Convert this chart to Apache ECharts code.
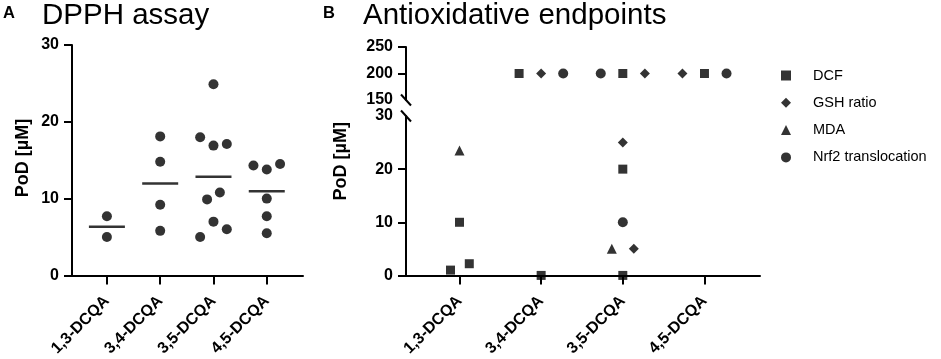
<!DOCTYPE html>
<html>
<head>
<meta charset="utf-8">
<script src="https://cdn.jsdelivr.net/npm/echarts@6/dist/echarts.min.js"></script>
<style>
  html, body { margin: 0; padding: 0; background: #fff; }
  #chart { width: 941px; height: 359px; }
</style>
</head>
<body>
<div id="chart"></div>
<script>
const categories = ["1,3-DCQA", "3,4-DCQA", "3,5-DCQA", "4,5-DCQA"];

// A: DPPH assay, PoD in µM per compound
const dpphValues = [
    [7.7, 5.0],
    [18.1, 14.8, 9.2, 5.8],
    [24.9, 18.0, 16.9, 17.1, 10.8, 9.9, 7.0, 6.0, 5.0],
    [14.3, 13.8, 14.5, 10.0, 7.7, 5.5]
];
// sideways spread of the dots (fraction of a category width)
const dpphJitter = [
    [0, 0],
    [0, 0, 0, 0],
    [0, -0.25, 0, 0.25, 0.12, -0.12, 0, 0.25, -0.25],
    [-0.25, 0, 0.25, 0, 0, 0]
];

// B: antioxidative endpoints, PoD in µM
const endpoints = ["DCF", "GSH ratio", "MDA", "Nrf2 translocation"];
const endpointSymbols = ["rect", "diamond", "triangle", "circle"];
const dcfValues = [[10, 1, 2.2], [0, 200], [20, 0, 200], [200]];
const gshValues = [[], [200], [25, 5, 200], [200]];
const mdaValues = [[23.5], [], [5], []];
const nrf2Values = [[], [200], [10, 200], [200]];
const dcfJitter = [[0, -0.11, 0.12], [0, -0.27], [0, 0, 0], [0]];
const gshJitter = [[], [0], [0, 0.135, 0.27], [-0.27]];
const mdaJitter = [[0], [], [-0.135], []];
const nrf2Jitter = [[], [0.27], [0, -0.27], [0.27]];

const yTicksA = [0, 10, 20, 30];
const yTicksBTop = [200, 250];
const yTicksBBottom = [0, 10, 20];
const breakLow = 30;
const breakHigh = 150;

const FONT = "'Liberation Sans', Arial, sans-serif";
const INK = "#000";
const xMin = -0.655;
const xMax = 3.68;

function points(values, jitter, keep) {
    const out = [];
    values.forEach((group, i) => {
        group.forEach((v, j) => {
            if (keep(v)) out.push([i + jitter[i][j], v]);
        });
    });
    return out;
}

function mean(arr) {
    return arr.reduce((a, b) => a + b, 0) / arr.length;
}

const lineStyle = { color: INK, width: 2 };

function xAxisFor(gridIndex, visible) {
    return {
        type: "value",
        gridIndex: gridIndex,
        min: xMin,
        max: xMax,
        show: visible,
        splitLine: { show: false },
        axisLine: { show: true, onZero: false, lineStyle: lineStyle },
        axisTick: { show: true, length: 9, customValues: [0, 1, 2, 3], lineStyle: lineStyle },
        axisLabel: {
            customValues: [0, 1, 2, 3],
            formatter: (v) => categories[Math.round(v)],
            rotate: 45,
            color: INK,
            fontFamily: FONT,
            fontWeight: "bold",
            fontSize: 16,
            margin: 23,
            padding: [30, 0, 0, 0]
        }
    };
}

function yAxisFor(gridIndex, min, max, interval, ticks) {
    return {
        type: "value",
        gridIndex: gridIndex,
        min: min,
        max: max,
        interval: interval,
        splitLine: { show: false },
        axisLine: { show: true, onZero: false, lineStyle: lineStyle },
        axisTick: { show: true, length: 8, customValues: ticks, lineStyle: lineStyle },
        axisLabel: { color: INK, fontFamily: FONT, fontWeight: "bold", fontSize: 16, margin: 13 }
    };
}

const endpointValues = [dcfValues, gshValues, mdaValues, nrf2Values];
const endpointJitter = [dcfJitter, gshJitter, mdaJitter, nrf2Jitter];
const endpointSizes = [9, 10, 10, 10];

const seriesB = [];
endpoints.forEach((name, k) => {
    const base = {
        type: "scatter",
        name: name,
        symbol: endpointSymbols[k],
        symbolSize: endpointSizes[k],
        itemStyle: { color: INK },
        clip: false,
        silent: true
    };
    seriesB.push({ ...base, xAxisIndex: 1, yAxisIndex: 1,
        data: points(endpointValues[k], endpointJitter[k], (v) => v >= breakHigh) });
    seriesB.push({ ...base, xAxisIndex: 2, yAxisIndex: 2,
        data: points(endpointValues[k], endpointJitter[k], (v) => v <= breakLow) });
});

const chart = echarts.init(document.getElementById("chart"), null, { renderer: "canvas" });

const titleStyle = (size, weight) => ({ fontSize: size, fontWeight: weight, color: INK, fontFamily: FONT });

chart.setOption({
    animation: false,
    backgroundColor: "#fff",
    textStyle: { fontFamily: FONT },
    title: [
        { text: "A", left: 3, top: 5, padding: 0, textStyle: titleStyle(16.5, "bold") },
        { text: "DPPH assay", left: 42, top: 1, padding: 0, textStyle: titleStyle(29.5, "normal") },
        { text: "B", left: 323, top: 5, padding: 0, textStyle: titleStyle(16.5, "bold") },
        { text: "Antioxidative endpoints", left: 363, top: 1, padding: 0, textStyle: titleStyle(29.5, "normal") }
    ],
    legend: {
        orient: "vertical",
        left: 781,
        top: 68,
        padding: 0,
        itemWidth: 10,
        itemHeight: 10,
        itemGap: 12.3,
        selectedMode: false,
        data: endpoints.map((n, k) => ({ name: n, icon: endpointSymbols[k] })),
        itemStyle: { color: INK },
        textStyle: { color: INK, fontFamily: FONT, fontSize: 14.5, lineHeight: 14, padding: [0, 0, 0, 17] }
    },
    grid: [
        { left: 72, top: 45, width: 231, height: 231 },
        { left: 406, top: 47, width: 354, height: 53 },
        { left: 406, top: 116, width: 354, height: 160 }
    ],
    xAxis: [xAxisFor(0, true), xAxisFor(1, false), xAxisFor(2, true)],
    yAxis: [
        yAxisFor(0, 0, 30, 10, yTicksA),
        yAxisFor(1, breakHigh, 250, 50, yTicksBTop),
        yAxisFor(2, 0, breakLow, 10, yTicksBBottom)
    ],
    series: [
        {
            type: "scatter",
            xAxisIndex: 0,
            yAxisIndex: 0,
            symbol: "circle",
            symbolSize: 10,
            itemStyle: { color: INK },
            silent: true,
            data: points(dpphValues, dpphJitter, () => true)
        },
        {
            type: "scatter",
            xAxisIndex: 0,
            yAxisIndex: 0,
            symbol: "rect",
            symbolSize: [36, 2.5],
            itemStyle: { color: INK },
            silent: true,
            data: dpphValues.map((g, i) => [i, mean(g)])
        },
        ...seriesB
    ]
});

// axis titles and the break marks on the split y axis of panel B
const topEnd = chart.convertToPixel({ gridIndex: 1 }, [xMin, breakHigh]);
const lowEnd = chart.convertToPixel({ gridIndex: 2 }, [xMin, breakLow]);
const topStart = chart.convertToPixel({ gridIndex: 1 }, [xMin, 250]);
const lowStart = chart.convertToPixel({ gridIndex: 2 }, [xMin, 0]);
const slash = (p) => ({
    type: "line",
    shape: { x1: p[0] - 5, y1: p[1] - 5.5, x2: p[0] + 5, y2: p[1] + 5.5 },
    style: { stroke: INK, lineWidth: 2 }
});
const yTitle = (x, y) => ({
    type: "text",
    x: x,
    y: y,
    rotation: Math.PI / 2,
    style: {
        text: "PoD [µM]",
        font: "bold 18px " + FONT,
        fill: INK,
        align: "center",
        verticalAlign: "middle"
    }
});
chart.setOption({
    graphic: [
        yTitle(23, 158),
        yTitle(341, (topStart[1] + lowStart[1]) / 2),
        slash(topEnd),
        slash(lowEnd)
    ]
});
</script>
</body>
</html>
